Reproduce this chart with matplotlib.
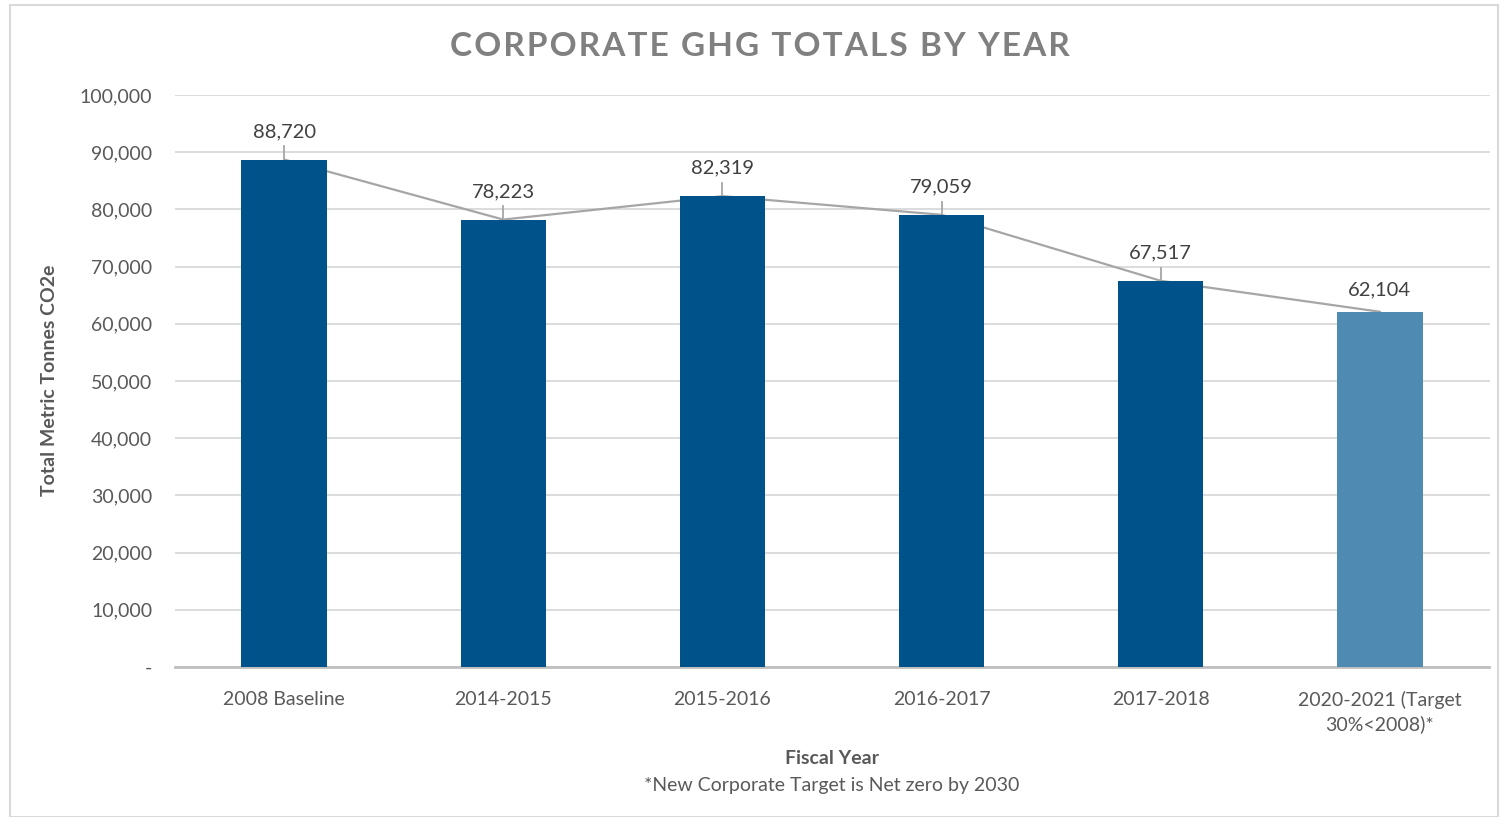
import matplotlib.pyplot as plt
from matplotlib.patches import Rectangle
from matplotlib.ticker import FuncFormatter

plt.rcParams['font.family'] = ['Lato', 'DejaVu Sans']

# data
years = ['2008 Baseline', '2014-2015', '2015-2016', '2016-2017', '2017-2018',
         '2020-2021 (Target\n30%<2008)*']
totals = [88720, 78223, 82319, 79059, 67517, 62104]
bar_colors = ['#00538A', '#00538A', '#00538A', '#00538A', '#00538A', '#4E8AB2']

W, H = 1504, 817
fig = plt.figure(figsize=(W / 100, H / 100), dpi=100)

# outer frame
fig.patches.append(Rectangle((10 / W, 0), 1488 / W, 1 - 5 / H, transform=fig.transFigure,
                             fill=False, edgecolor='#D9D9D9', lw=1.5))

ax = fig.add_axes([174.5 / W, 1 - 667 / H, 1315 / W, 572 / H])
x = range(len(years))

# trend line behind the bars
ax.plot(x, totals, color='#A6A6A6', lw=1.6, zorder=2)
ax.bar(x, totals, width=0.39, color=bar_colors, zorder=3)

for i, v in enumerate(totals):
    if i < len(totals) - 1:
        ax.plot([i, i], [v + 200, v + 2300], color='#A6A6A6', lw=1.3, zorder=2)
        ax.text(i, v + 3400, f'{v:,}', ha='center', va='bottom', fontsize=14.5, color='#404040')
    else:
        ax.text(i, v + 2300, f'{v:,}', ha='center', va='bottom', fontsize=14.5, color='#404040')

ax.set_xlim(-0.5, len(years) - 0.5)
ax.set_ylim(0, 100000)
ax.set_yticks(range(0, 100001, 10000))
ax.yaxis.set_major_formatter(FuncFormatter(lambda v, p: '-' if v == 0 else f'{int(v):,}'))
ax.set_xticks(list(x))
ax.set_xticklabels(years, linespacing=1.45)
ax.tick_params(axis='both', length=0, labelsize=14, labelcolor='#595959')
ax.tick_params(axis='y', pad=16)
ax.tick_params(axis='x', pad=17)
ax.grid(axis='y', color='#D9D9D9', lw=1.3, zorder=0)
ax.set_axisbelow(True)
for s in ['top', 'right', 'left']:
    ax.spines[s].set_visible(False)
ax.spines['bottom'].set_color('#BFBFBF')
ax.spines['bottom'].set_linewidth(2)

title = 'CORPORATE GHG TOTALS BY YEAR'
title = '\u200a'.join(title).replace('\u200a \u200a', ' \u2009')
fig.text(760 / W, 1 - 46 / H, title,
         ha='center', va='center', fontsize=24, fontweight='bold', color='#808080')
fig.text(50 / W, 1 - 380 / H, 'Total Metric Tonnes CO2e', rotation=90, ha='center', va='center',
         fontsize=14, fontweight='bold', color='#595959')
fig.text(832 / W, 1 - 758 / H, 'Fiscal Year', ha='center', va='center',
         fontsize=14, fontweight='bold', color='#595959')
fig.text(832 / W, 1 - 785 / H, '*New Corporate Target is Net zero by 2030', ha='center', va='center',
         fontsize=14, color='#595959')

fig.savefig('out.png', dpi=100)
